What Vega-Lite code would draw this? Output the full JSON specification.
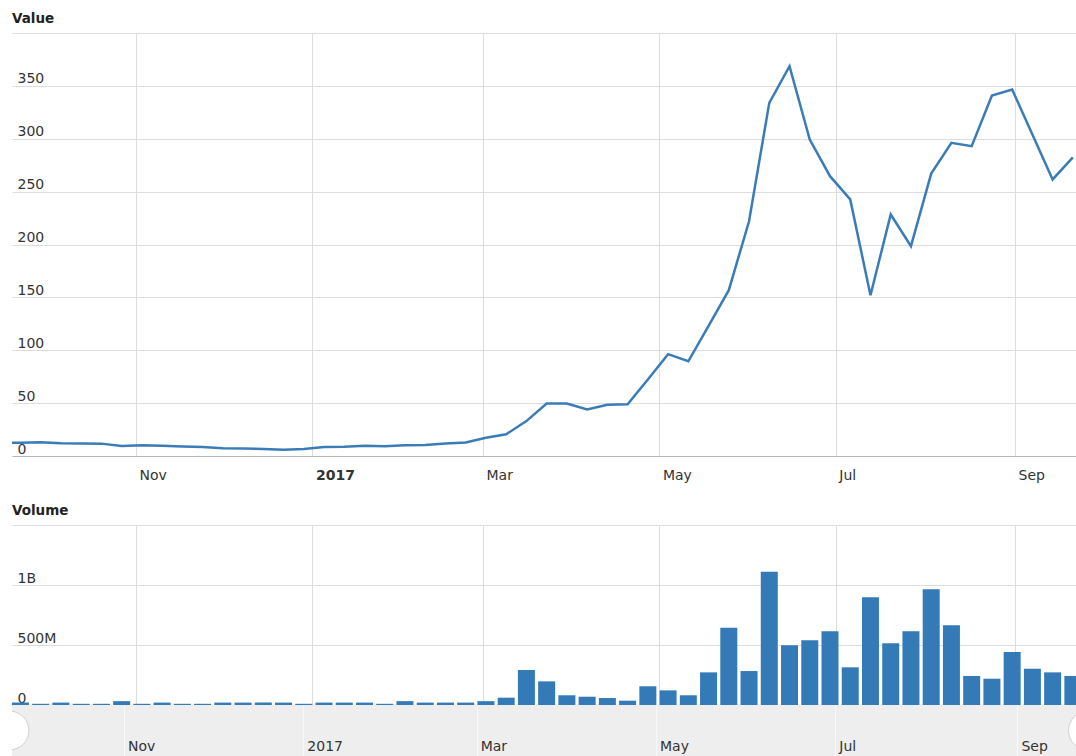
{
  "$schema": "https://vega.github.io/schema/vega-lite/v6.json",
  "padding": {"left": 12, "top": 11, "right": 0, "bottom": 0},
  "background": "white",
  "spacing": 20,
  "config": {
    "font": "DejaVu Sans",
    "view": {"stroke": null},
    "axis": {"labelFont": "DejaVu Sans", "labelFontSize": 14, "labelColor": "#333333", "gridColor": "#dddddd", "gridWidth": 1, "ticks": false, "tickSize": 0, "domain": false, "title": null},
    "title": {"font": "DejaVu Sans", "fontSize": 13.5, "fontWeight": "bold", "color": "#222222", "anchor": "start", "offset": 8}
  },
  "datasets": {
    "weekly": [
      {"date": "2016-09-15", "value": 12.5, "volume": 15000000},
      {"date": "2016-09-22", "value": 12.6, "volume": 20000000},
      {"date": "2016-09-29", "value": 12.9, "volume": 10000000},
      {"date": "2016-10-06", "value": 12.1, "volume": 20000000},
      {"date": "2016-10-13", "value": 11.9, "volume": 10000000},
      {"date": "2016-10-20", "value": 11.7, "volume": 10000000},
      {"date": "2016-10-27", "value": 9.4, "volume": 32000000},
      {"date": "2016-11-03", "value": 10.2, "volume": 10000000},
      {"date": "2016-11-10", "value": 9.6, "volume": 20000000},
      {"date": "2016-11-17", "value": 9.0, "volume": 10000000},
      {"date": "2016-11-24", "value": 8.6, "volume": 10000000},
      {"date": "2016-12-01", "value": 7.4, "volume": 20000000},
      {"date": "2016-12-08", "value": 7.1, "volume": 20000000},
      {"date": "2016-12-15", "value": 6.7, "volume": 20000000},
      {"date": "2016-12-22", "value": 5.9, "volume": 20000000},
      {"date": "2016-12-29", "value": 6.6, "volume": 10000000},
      {"date": "2017-01-05", "value": 8.4, "volume": 20000000},
      {"date": "2017-01-12", "value": 8.7, "volume": 20000000},
      {"date": "2017-01-19", "value": 9.6, "volume": 20000000},
      {"date": "2017-01-26", "value": 9.3, "volume": 10000000},
      {"date": "2017-02-02", "value": 10.2, "volume": 32000000},
      {"date": "2017-02-09", "value": 10.5, "volume": 20000000},
      {"date": "2017-02-16", "value": 11.8, "volume": 20000000},
      {"date": "2017-02-23", "value": 12.8, "volume": 20000000},
      {"date": "2017-03-02", "value": 17.2, "volume": 32000000},
      {"date": "2017-03-09", "value": 20.5, "volume": 61000000},
      {"date": "2017-03-16", "value": 33.0, "volume": 292000000},
      {"date": "2017-03-23", "value": 49.6, "volume": 197000000},
      {"date": "2017-03-30", "value": 49.6, "volume": 81000000},
      {"date": "2017-04-06", "value": 44.0, "volume": 69000000},
      {"date": "2017-04-13", "value": 48.4, "volume": 58000000},
      {"date": "2017-04-20", "value": 49.0, "volume": 36000000},
      {"date": "2017-04-27", "value": 72.3, "volume": 156000000},
      {"date": "2017-05-04", "value": 96.3, "volume": 122000000},
      {"date": "2017-05-11", "value": 89.6, "volume": 81000000},
      {"date": "2017-05-18", "value": 123.0, "volume": 272000000},
      {"date": "2017-05-25", "value": 156.8, "volume": 644000000},
      {"date": "2017-06-01", "value": 222.0, "volume": 283000000},
      {"date": "2017-06-08", "value": 334.0, "volume": 1111000000},
      {"date": "2017-06-15", "value": 368.6, "volume": 497000000},
      {"date": "2017-06-22", "value": 299.3, "volume": 539000000},
      {"date": "2017-06-29", "value": 264.6, "volume": 614000000},
      {"date": "2017-07-06", "value": 242.6, "volume": 314000000},
      {"date": "2017-07-13", "value": 152.0, "volume": 897000000},
      {"date": "2017-07-20", "value": 228.4, "volume": 514000000},
      {"date": "2017-07-27", "value": 198.4, "volume": 614000000},
      {"date": "2017-08-03", "value": 267.1, "volume": 964000000},
      {"date": "2017-08-10", "value": 296.2, "volume": 664000000},
      {"date": "2017-08-17", "value": 293.0, "volume": 242000000},
      {"date": "2017-08-24", "value": 340.9, "volume": 219000000},
      {"date": "2017-08-31", "value": 346.6, "volume": 442000000},
      {"date": "2017-09-07", "value": 304.0, "volume": 303000000},
      {"date": "2017-09-14", "value": 261.5, "volume": 272000000},
      {"date": "2017-09-21", "value": 282.3, "volume": 242000000}
    ],
    "handles": [
      {"date": "2016-09-23", "handle": "start"},
      {"date": "2017-09-25", "handle": "end"}
    ]
  },
  "vconcat": [
    {
      "title": "Value",
      "width": 1064,
      "height": 423,
      "data": {"name": "weekly"},
      "mark": {"type": "line", "color": "#3a7cb8", "strokeWidth": 2.5, "clip": true},
      "encoding": {
        "x": {
          "field": "date", "type": "temporal",
          "scale": {"type": "utc", "padding": 0, "domain": [{"year": 2016, "month": 9, "date": 19, "hours": 2, "utc": true}, {"year": 2017, "month": 9, "date": 22, "hours": 2, "utc": true}]},
          "axis": {
            "values": [{"year": 2016, "month": 11, "date": 1, "utc": true}, {"year": 2017, "month": 1, "date": 1, "utc": true}, {"year": 2017, "month": 3, "date": 1, "utc": true}, {"year": 2017, "month": 5, "date": 1, "utc": true}, {"year": 2017, "month": 7, "date": 1, "utc": true}, {"year": 2017, "month": 9, "date": 1, "utc": true}],
            "grid": true, "domain": true, "domainColor": "#b5b5b5",
            "labelAlign": "left", "labelBaseline": "alphabetic", "labelPadding": 23.5, "labelOffset": 3,
            "labelExpr": "utcmonth(datum.value) === 0 ? utcFormat(datum.value, '%Y') : utcFormat(datum.value, '%b')",
            "labelFontWeight": {"condition": {"test": "utcmonth(datum.value) === 0", "value": "bold"}, "value": "normal"}
          }
        },
        "y": {
          "field": "value", "type": "quantitative",
          "scale": {"domain": [0, 400], "nice": false},
          "axis": {
            "values": [0, 50, 100, 150, 200, 250, 300, 350, 400],
            "grid": true, "labelAlign": "left", "labelBaseline": "alphabetic", "labelPadding": -5, "labelOffset": -3,
            "labelExpr": "datum.value >= 400 ? '' : datum.label"
          }
        }
      }
    },
    {
      "spacing": 0,
      "vconcat": [
        {
          "title": "Volume",
          "width": 1064,
          "height": 180,
          "data": {"name": "weekly"},
          "mark": {"type": "bar", "color": "#337ab7", "size": 17, "clip": true},
          "encoding": {
            "x": {
              "field": "date", "type": "temporal",
              "scale": {"type": "utc", "padding": 0, "domain": [{"year": 2016, "month": 9, "date": 19, "hours": 2, "utc": true}, {"year": 2017, "month": 9, "date": 22, "hours": 2, "utc": true}]},
              "axis": {
                "values": [{"year": 2016, "month": 11, "date": 1, "utc": true}, {"year": 2017, "month": 1, "date": 1, "utc": true}, {"year": 2017, "month": 3, "date": 1, "utc": true}, {"year": 2017, "month": 5, "date": 1, "utc": true}, {"year": 2017, "month": 7, "date": 1, "utc": true}, {"year": 2017, "month": 9, "date": 1, "utc": true}],
                "grid": true, "labels": false, "domain": false
              }
            },
            "y": {
              "field": "volume", "type": "quantitative",
              "scale": {"domain": [0, 1500000000], "nice": false},
              "axis": {
                "values": [0, 500000000, 1000000000, 1500000000],
                "grid": true, "labelAlign": "left", "labelBaseline": "alphabetic", "labelPadding": -5, "labelOffset": -3,
                "labelExpr": "datum.value >= 1500000000 ? '' : datum.value >= 1000000000 ? format(datum.value / 1000000000, '~g') + 'B' : datum.value > 0 ? format(datum.value / 1000000, '~g') + 'M' : '0'"
              }
            }
          }
        },
        {
          "width": 1064,
          "height": 51,
          "view": {"fill": "#eeeeee", "stroke": null},
          "data": {"name": "handles"},
          "mark": {"type": "point", "filled": true, "color": "white", "stroke": "#cfcfcf", "strokeWidth": 1, "size": 1520, "opacity": 1, "clip": true},
          "encoding": {
            "x": {
              "field": "date", "type": "temporal",
              "scale": {"type": "utc", "padding": 0, "domain": [{"year": 2016, "month": 9, "date": 23, "hours": 21, "utc": true}, {"year": 2017, "month": 9, "date": 20, "hours": 22, "utc": true}]},
              "axis": {
                "values": [{"year": 2016, "month": 11, "date": 1, "utc": true}, {"year": 2017, "month": 1, "date": 1, "utc": true}, {"year": 2017, "month": 3, "date": 1, "utc": true}, {"year": 2017, "month": 5, "date": 1, "utc": true}, {"year": 2017, "month": 7, "date": 1, "utc": true}, {"year": 2017, "month": 9, "date": 1, "utc": true}],
                "grid": true, "gridColor": "#f8f8f8", "domain": false,
                "labelAlign": "left", "labelBaseline": "alphabetic", "labelPadding": -5.5, "labelOffset": 3.5,
                "labelExpr": "utcmonth(datum.value) === 0 ? utcFormat(datum.value, '%Y') : utcFormat(datum.value, '%b')"
              }
            }
          }
        }
      ]
    }
  ]
}
